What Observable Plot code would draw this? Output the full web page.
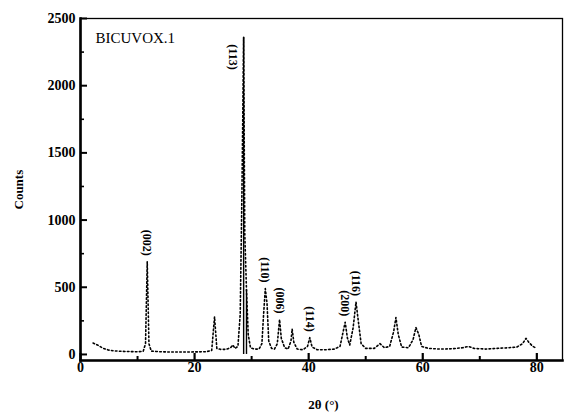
<!DOCTYPE html>
<html><head><meta charset="utf-8">
<script src="https://cdn.jsdelivr.net/npm/d3@7"></script>
<script src="https://cdn.jsdelivr.net/npm/@observablehq/plot@0.6"></script>
<style>body{margin:0;background:#fff} svg{display:block}</style>
</head><body><div id="chart"></div>
<script>
// XRD pattern of BICUVOX.1 (2θ in degrees, counts)
const angles = [2.2,3,4,5,6,8,10,11,11.4,11.7,12.0,12.4,14,16,18,20,22,23.0,23.5,23.9,24.5,25.5,26.3,26.7,27.1,27.6,28.0,28.3,28.6,28.8,29.1,29.4,29.8,30.5,31.3,31.8,32.1,32.4,32.7,33.0,33.5,34.0,34.5,34.9,35.2,35.8,36.4,36.9,37.1,37.4,38.0,39.0,39.8,40.2,40.6,41.5,43,44.5,45.5,46.1,46.4,46.8,47.2,47.8,48.3,48.7,49.2,50,51.5,52.5,53.3,54.2,54.9,55.3,55.7,56.3,57.5,58.3,58.8,59.3,59.8,61,63,65,67,68,69,71,73,75,76.5,77.5,78.1,78.6,79.3,80];
const counts = [85,70,45,32,26,22,20,24,80,690,80,25,20,18,18,19,20,30,280,45,38,38,50,70,45,60,300,1200,2360,900,480,150,50,40,40,80,300,490,380,100,45,40,80,260,120,50,40,100,190,90,40,35,60,125,55,35,35,40,60,180,240,120,70,200,390,250,80,45,45,80,50,60,170,275,150,55,50,110,200,150,60,45,40,42,50,60,45,40,45,50,55,80,120,90,60,45];

const peakLabels = ["(002)","(110)","(006)","(114)","(200)","(116)"];
const peakAngles = [11.7, 32.4, 34.9, 40.2, 46.4, 48.3];
const peakCounts = [690, 490, 260, 125, 240, 390];

const mainLabel = ["(113)"];
const sharpAngles = [28.6, 29.1];
const sharpCounts = [2360, 480];

const sampleName = ["BICUVOX.1"];
const xTicks = [0, 20, 40, 60, 80];
const xMinor = [10, 30, 50, 70];
const yTicks = [0, 500, 1000, 1500, 2000, 2500];
const yMinor = [250, 750, 1250, 1750, 2250];

const pattern = angles.map((a, i) => ({angle: a, counts: counts[i]}));
const peaks = peakLabels.map((l, i) => ({label: l, angle: peakAngles[i], counts: peakCounts[i]}));
const sharp = sharpAngles.map((a, i) => ({angle: a, counts: sharpCounts[i]}));
const main = [{label: mainLabel[0], angle: sharpAngles[0], counts: sharpCounts[0]}];

const serif = "'Liberation Serif', 'DejaVu Serif', serif";
const W = 564, H = 415, mL = 80, mR = 2, mT = 18, mB = 55;
const fw = W - mL - mR, fh = H - mT - mB;

const chart = Plot.plot({
  width: W,
  height: H,
  marginLeft: mL,
  marginRight: mR,
  marginTop: mT,
  marginBottom: mB,
  style: {fontFamily: serif, background: "#fff", color: "#000"},
  x: {domain: [0, 84.5], label: null},
  y: {domain: [-45, 2500], label: null},
  marks: [
    Plot.line(pattern, {x: "angle", y: "counts", stroke: "#000", strokeWidth: 1.6, strokeDasharray: "1.6,2.4"}),
    Plot.ruleX(sharp, {x: "angle", y1: 0, y2: "counts", stroke: "#000", strokeWidth: 1.4}),
    Plot.text(peaks, {x: "angle", y: "counts", text: "label", rotate: 90, textAnchor: "end", dy: -6, fontSize: 12, fontWeight: "bold", fill: "#000"}),
    Plot.text(main, {x: "angle", y: "counts", text: "label", rotate: 90, textAnchor: "start", dy: 7, dx: -11, fontSize: 12, fontWeight: "bold", fill: "#000"}),
    Plot.text(sampleName, {frameAnchor: "top-left", dx: 15, dy: 14, fontSize: 15, fill: "#000", textAnchor: "start"}),
    Plot.tickX(xTicks, {x: d => d, insetTop: fh - 7, stroke: "#000", strokeWidth: 2.2}),
    Plot.tickX(xMinor, {x: d => d, insetTop: fh - 4, stroke: "#000", strokeWidth: 2}),
    Plot.tickY(yTicks, {y: d => d, insetRight: fw - 7, stroke: "#000", strokeWidth: 2}),
    Plot.tickY(yMinor, {y: d => d, insetRight: fw - 4, stroke: "#000", strokeWidth: 1.6}),
    Plot.axisX({ticks: xTicks, tickSize: 0, tickPadding: 2, tickFormat: d => String(d), fontSize: 14, fontWeight: "bold", label: null}),
    Plot.axisY({ticks: yTicks, tickSize: 0, tickPadding: 5, tickFormat: d => String(d), fontSize: 14, fontWeight: "bold", label: null}),
    Plot.frame({strokeWidth: 1.3}),
    Plot.frame({anchor: "left", strokeWidth: 2.6}),
    Plot.frame({anchor: "bottom", strokeWidth: 2.6}),
    Plot.text(["Counts"], {frameAnchor: "left", dx: -62, dy: 20, rotate: -90, fontSize: 13, fontWeight: "bold", fill: "#000"}),
    Plot.text(["2θ (°)"], {frameAnchor: "bottom", dx: 2, dy: 48, fontSize: 13, fontWeight: "bold", fill: "#000"})
  ]
});
document.getElementById("chart").appendChild(chart);
</script>
</body></html>
